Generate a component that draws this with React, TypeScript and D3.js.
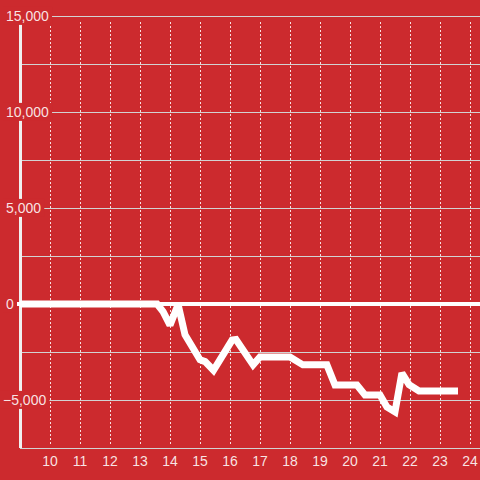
import React, { useEffect, useRef } from "react";
import * as d3 from "d3";

const hours = [9, 13.57, 13.77, 14.0, 14.27, 14.5, 15.0, 15.17, 15.45, 16.07, 16.2, 16.77, 17.0, 18.0, 18.43, 19.23, 19.5, 20.23, 20.5, 21.0, 21.23, 21.5, 21.73, 21.97, 22.3, 23.6];
const values = [0, 0, -400, -1100, -30, -1600, -2900, -3000, -3450, -1880, -1850, -3170, -2760, -2760, -3170, -3170, -4220, -4220, -4740, -4740, -5360, -5620, -3600, -4200, -4530, -4530];
const yTicks = [15000, 12500, 10000, 7500, 5000, 2500, 0, -2500, -5000, -7500];
const yLabelTicks = [15000, 10000, 5000, 0, -5000];
const xTicks = [10, 11, 12, 13, 14, 15, 16, 17, 18, 19, 20, 21, 22, 23, 24];

const W = 480;
const H = 480;
const BG = "rgb(204,42,46)";
const TEXT = "rgba(255,255,255,0.88)";

export default function App() {
  const ref = useRef<SVGSVGElement | null>(null);

  useEffect(() => {
    const svg = d3.select(ref.current);
    svg.selectAll("*").remove();

    const x = d3.scaleLinear().domain([9, 24]).range([20, 470]);
    const y = d3.scaleLinear().domain([-7500, 15000]).range([448, 16]);

    svg.append("rect").attr("width", W).attr("height", H).attr("fill", BG);

    // horizontal grid
    svg
      .append("g")
      .selectAll("line")
      .data(yTicks.filter((t) => t !== 0))
      .join("line")
      .attr("x1", 20)
      .attr("x2", W)
      .attr("y1", (d) => Math.round(y(d)) + 0.5)
      .attr("y2", (d) => Math.round(y(d)) + 0.5)
      .attr("stroke", "rgb(210,210,210)")
      .attr("stroke-width", 1);

    // vertical dotted grid
    svg
      .append("g")
      .selectAll("line")
      .data(xTicks)
      .join("line")
      .attr("x1", (d) => Math.round(x(d)) + 0.5)
      .attr("x2", (d) => Math.round(x(d)) + 0.5)
      .attr("y1", y(15000) + 6)
      .attr("y2", y(-7500) - 2)
      .attr("stroke", "rgba(255,255,255,0.85)")
      .attr("stroke-width", 1)
      .attr("stroke-dasharray", "2,2");

    // y axis line
    svg
      .append("line")
      .attr("x1", 20.5)
      .attr("x2", 20.5)
      .attr("y1", y(15000))
      .attr("y2", y(-7500))
      .attr("stroke", "rgb(240,240,240)")
      .attr("stroke-width", 3);

    // y labels with background boxes
    const lg = svg.append("g");
    yLabelTicks.forEach((t) => {
      const g = lg.append("g");
      const txt = g
        .append("text")
        .attr("x", t < 0 ? 3 : 6)
        .attr("y", y(t))
        .attr("dy", "0.35em")
        .attr("font-family", "'Liberation Sans', Arial, sans-serif")
        .attr("font-size", 14)
        .attr("fill", TEXT)
        .text(d3.format(",")(t));
      const bb = (txt.node() as SVGTextElement).getBBox();
      g.insert("rect", "text")
        .attr("x", bb.x - 3)
        .attr("y", bb.y - 1)
        .attr("width", bb.width + 6)
        .attr("height", bb.height + 2)
        .attr("fill", BG);
    });

    // zero line
    svg
      .append("line")
      .attr("x1", 17)
      .attr("x2", W)
      .attr("y1", y(0))
      .attr("y2", y(0))
      .attr("stroke", "white")
      .attr("stroke-width", 4);

    // x labels
    svg
      .append("g")
      .selectAll("text")
      .data(xTicks)
      .join("text")
      .attr("x", (d) => x(d))
      .attr("y", 466)
      .attr("text-anchor", "middle")
      .attr("font-family", "'Liberation Sans', Arial, sans-serif")
      .attr("font-size", 14)
      .attr("fill", TEXT)
      .text((d) => String(d));

    // data line
    const line = d3
      .line<number>()
      .x((_, i) => x(hours[i]))
      .y((d) => y(d));
    svg
      .append("path")
      .attr("d", line(values) || "")
      .attr("fill", "none")
      .attr("stroke", "white")
      .attr("stroke-width", 7)
      .attr("stroke-linejoin", "miter")
      .attr("stroke-miterlimit", 2)
      .attr("stroke-linecap", "butt");
  }, []);

  return (
    <svg
      ref={ref}
      width={W}
      height={H}
      style={{ position: "absolute", left: 0, top: 0, display: "block" }}
    />
  );
}
